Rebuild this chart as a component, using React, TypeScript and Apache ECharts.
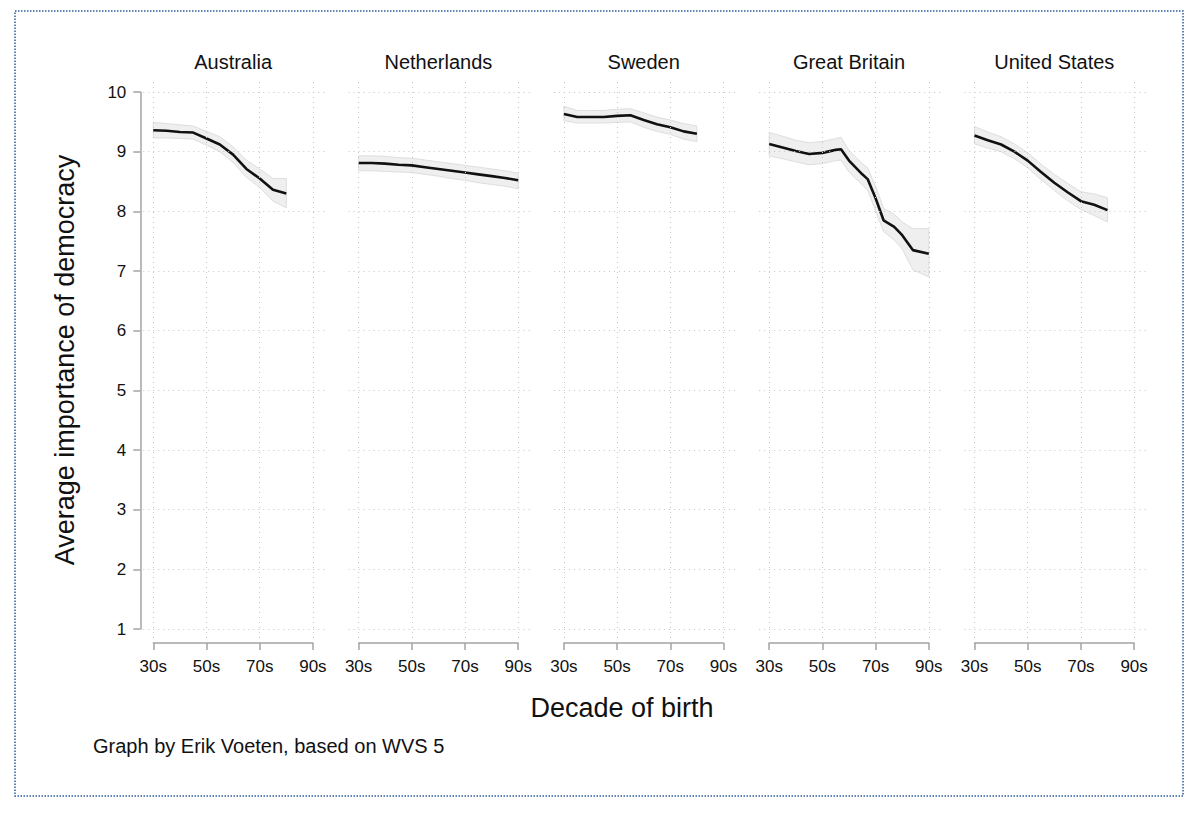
import React, { useEffect, useRef } from "react";
import * as echarts from "echarts";

// ---------- data ----------
const countries = ["Australia", "Netherlands", "Sweden", "Great Britain", "United States"];

const auYears = [1930, 1935, 1940, 1945, 1950, 1955, 1960, 1965, 1970, 1975, 1980];
const auMean = [9.36, 9.35, 9.33, 9.32, 9.22, 9.12, 8.95, 8.71, 8.55, 8.36, 8.30];
const auLower = [9.23, 9.23, 9.22, 9.21, 9.11, 9.0, 8.82, 8.57, 8.4, 8.17, 8.06];
const auUpper = [9.49, 9.47, 9.45, 9.43, 9.34, 9.25, 9.08, 8.86, 8.71, 8.55, 8.55];

const nlYears = [1930, 1935, 1940, 1945, 1950, 1955, 1960, 1965, 1970, 1975, 1980, 1985, 1990];
const nlMean = [8.81, 8.81, 8.8, 8.78, 8.77, 8.74, 8.71, 8.68, 8.65, 8.62, 8.59, 8.56, 8.52];
const nlLower = [8.68, 8.68, 8.67, 8.66, 8.65, 8.62, 8.59, 8.55, 8.52, 8.48, 8.45, 8.42, 8.38];
const nlUpper = [8.93, 8.93, 8.92, 8.9, 8.89, 8.86, 8.83, 8.8, 8.77, 8.74, 8.71, 8.68, 8.64];

const seYears = [1930, 1935, 1940, 1945, 1950, 1955, 1960, 1965, 1970, 1975, 1980];
const seMean = [9.63, 9.58, 9.58, 9.58, 9.6, 9.61, 9.53, 9.46, 9.41, 9.34, 9.3];
const seLower = [9.52, 9.48, 9.48, 9.48, 9.49, 9.5, 9.41, 9.34, 9.29, 9.21, 9.17];
const seUpper = [9.76, 9.69, 9.69, 9.69, 9.71, 9.72, 9.65, 9.58, 9.53, 9.47, 9.43];

const gbYears = [1930, 1935, 1940, 1945, 1950, 1955, 1957, 1960, 1965, 1967, 1970, 1973, 1977, 1980, 1984, 1990];
const gbMean = [9.13, 9.07, 9.01, 8.96, 8.98, 9.03, 9.04, 8.85, 8.62, 8.54, 8.22, 7.85, 7.74, 7.6, 7.35, 7.29];
const gbLower = [8.93, 8.88, 8.83, 8.78, 8.8, 8.85, 8.86, 8.66, 8.44, 8.36, 8.01, 7.66, 7.52, 7.37, 7.02, 6.9];
const gbUpper = [9.32, 9.26, 9.19, 9.15, 9.17, 9.22, 9.24, 9.02, 8.8, 8.73, 8.42, 8.05, 7.95, 7.82, 7.71, 7.71];

const usYears = [1930, 1935, 1940, 1945, 1950, 1955, 1960, 1965, 1970, 1975, 1980];
const usMean = [9.27, 9.19, 9.12, 9.0, 8.85, 8.66, 8.48, 8.32, 8.17, 8.11, 8.02];
const usLower = [9.13, 9.06, 9.0, 8.88, 8.73, 8.53, 8.35, 8.18, 8.03, 7.93, 7.82];
const usUpper = [9.42, 9.33, 9.25, 9.13, 8.98, 8.79, 8.62, 8.47, 8.33, 8.29, 8.23];

const xTickValues = [1930, 1950, 1970, 1990];
const xTickLabels = ["30s", "50s", "70s", "90s"];
const yTickValues = [1, 2, 3, 4, 5, 6, 7, 8, 9, 10];

const yAxisTitle = "Average importance of democracy";
const xAxisTitle = "Decade of birth";
const caption = "Graph by Erik Voeten, based on WVS 5";

// ---------- layout ----------
const FONT = "'Liberation Sans', Arial, Helvetica, sans-serif";
const PANEL_LEFT = 153.3;
const PANEL_STEP = 205.3;
const PANEL_W = 159.6;
const PLOT_TOP = 92;
const PLOT_H = 537;
const PX_PER_UNIT = PLOT_H / 9;
const PX_PER_YEAR = PANEL_W / 60;

const panels = [
  { years: auYears, mean: auMean, lower: auLower, upper: auUpper },
  { years: nlYears, mean: nlMean, lower: nlLower, upper: nlUpper },
  { years: seYears, mean: seMean, lower: seLower, upper: seUpper },
  { years: gbYears, mean: gbMean, lower: gbLower, upper: gbUpper },
  { years: usYears, mean: usMean, lower: usLower, upper: usUpper },
];

function buildOption(): any {
  const grids: any[] = [];
  const xAxes: any[] = [];
  const yAxes: any[] = [];
  const series: any[] = [];
  const graphics: any[] = [];

  const axisGray = "#a3a3a3";
  const gridDot = { color: "#c4c4c4", width: 1, type: [1, 4] };

  // inner grids (data)
  panels.forEach((p, i) => {
    const left = PANEL_LEFT + PANEL_STEP * i;
    grids.push({ left, top: PLOT_TOP, width: PANEL_W, height: PLOT_H, containLabel: false });
    xAxes.push({
      type: "value",
      gridIndex: i,
      min: 1930,
      max: 1990,
      interval: 20,
      offset: 14,
      axisLine: { show: true, lineStyle: { color: axisGray, width: 1.5 } },
      axisTick: { show: true, length: 7, lineStyle: { color: axisGray, width: 1.5 } },
      axisLabel: {
        show: true,
        margin: 15,
        color: "#111",
        fontSize: 17,
        fontFamily: FONT,
        formatter: (v: number) => {
          const k = xTickValues.indexOf(v);
          return k >= 0 ? xTickLabels[k] : "";
        },
      },
      splitLine: { show: false },
    });
    yAxes.push({
      type: "value",
      gridIndex: i,
      min: 1,
      max: 10,
      interval: 1,
      show: i === 0,
      offset: 13,
      axisLine: { show: true, lineStyle: { color: axisGray, width: 1.5 } },
      axisTick: { show: true, length: 7, lineStyle: { color: axisGray, width: 1.5 } },
      axisLabel: { show: true, margin: 14, color: "#111", fontSize: 17, fontFamily: FONT },
      splitLine: { show: false },
    });
  });

  // outer grids (plot region with dotted grid lines)
  panels.forEach((p, i) => {
    const left = PANEL_LEFT + PANEL_STEP * i - 10;
    const extL = 10, extR = 12, extT = 11, extB = 9;
    grids.push({
      left,
      top: PLOT_TOP - extT,
      width: PANEL_W + extL + extR,
      height: PLOT_H + extT + extB,
    });
    xAxes.push({
      type: "value",
      gridIndex: 5 + i,
      min: 1930 - extL / PX_PER_YEAR,
      max: 1990 + extR / PX_PER_YEAR,
      show: false,
    });
    yAxes.push({
      type: "value",
      gridIndex: 5 + i,
      min: 1 - extB / PX_PER_UNIT,
      max: 10 + extT / PX_PER_UNIT,
      show: false,
    });
    series.push({
      type: "line",
      xAxisIndex: 5 + i,
      yAxisIndex: 5 + i,
      data: [[1930, 5]],
      showSymbol: false,
      lineStyle: { opacity: 0 },
      silent: true,
      z: 1,
      markLine: {
        silent: true,
        symbol: ["none", "none"],
        label: { show: false },
        lineStyle: gridDot,
        emphasis: { disabled: true },
        data: [
          ...xTickValues.map((v) => ({ xAxis: v })),
          ...yTickValues.map((v) => ({ yAxis: v })),
        ],
      },
    });
  });

  // data series
  panels.forEach((p, i) => {
    const bandData = p.years.map((y, k) => [y, p.lower[k], p.upper[k]]);
    const meanData = p.years.map((y, k) => [y, p.mean[k]]);
    series.push({
      type: "custom",
      xAxisIndex: i,
      yAxisIndex: i,
      data: bandData,
      silent: true,
      z: 2,
      clip: false,
      renderItem: (params: any, api: any) => {
        if (params.dataIndex !== 0) return null;
        const upperPts = bandData.map((d) => api.coord([d[0], d[2]]));
        const lowerPts = bandData.map((d) => api.coord([d[0], d[1]])).reverse();
        return {
          type: "polygon",
          shape: { points: upperPts.concat(lowerPts) },
          style: { fill: "#efefef", stroke: "#dedede", lineWidth: 1 },
        };
      },
    });
    series.push({
      type: "line",
      xAxisIndex: i,
      yAxisIndex: i,
      data: meanData,
      showSymbol: false,
      lineStyle: { color: "#111111", width: 2.6 },
      silent: true,
      z: 3,
    });

    graphics.push({
      type: "text",
      x: PANEL_LEFT + PANEL_STEP * i + PANEL_W / 2,
      y: 62,
      style: {
        text: countries[i],
        align: "center",
        verticalAlign: "middle",
        fontSize: 20,
        fontFamily: FONT,
        fill: "#111",
      },
    });
  });

  graphics.push(
    {
      type: "rect",
      shape: { x: 15, y: 11, width: 1168, height: 785 },
      style: { fill: "none", stroke: "#2e5d9c", lineWidth: 1.5, lineDash: [1.5, 1.5] },
      silent: true,
    },
    {
      type: "text",
      x: 65,
      y: 360,
      rotation: Math.PI / 2,
      style: {
        text: yAxisTitle,
        align: "center",
        verticalAlign: "middle",
        fontSize: 27,
        fontFamily: FONT,
        fill: "#111",
      },
    },
    {
      type: "text",
      x: 622,
      y: 708,
      style: {
        text: xAxisTitle,
        align: "center",
        verticalAlign: "middle",
        fontSize: 27,
        fontFamily: FONT,
        fill: "#111",
      },
    },
    {
      type: "text",
      x: 93,
      y: 746,
      style: {
        text: caption,
        align: "left",
        verticalAlign: "middle",
        fontSize: 20,
        fontFamily: FONT,
        fill: "#111",
      },
    }
  );

  return {
    animation: false,
    backgroundColor: "#ffffff",
    grid: grids,
    xAxis: xAxes,
    yAxis: yAxes,
    series,
    graphic: graphics,
  };
}

export default function App() {
  const ref = useRef<HTMLDivElement>(null);
  useEffect(() => {
    if (!ref.current) return;
    const chart = echarts.init(ref.current, undefined, { renderer: "svg" });
    chart.setOption(buildOption());
    return () => chart.dispose();
  }, []);
  return (
    <div
      ref={ref}
      style={{ position: "fixed", left: 0, top: 0, width: 1200, height: 817, background: "#fff" }}
    />
  );
}
